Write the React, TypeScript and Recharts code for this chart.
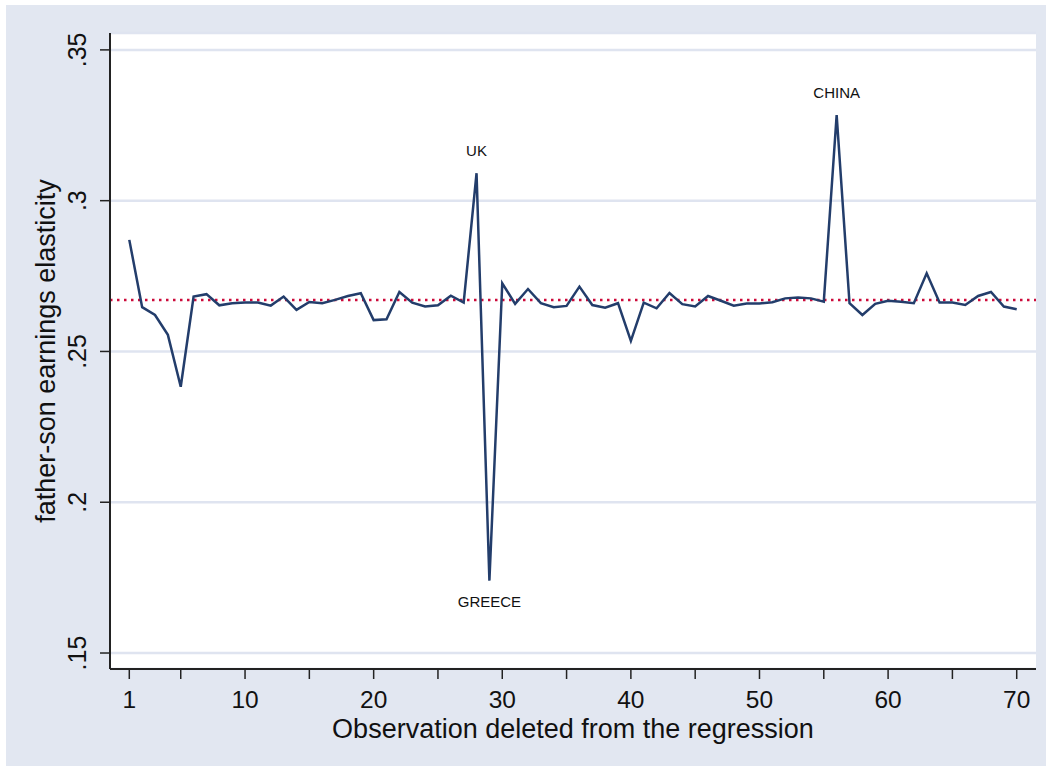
import React from 'react'
import {
  LineChart,
  Line,
  XAxis,
  YAxis,
  CartesianGrid,
  ReferenceLine,
  Label,
} from 'recharts'

// observation number deleted (1..70)
const observations = [
  1, 2, 3, 4, 5, 6, 7, 8, 9, 10,
  11, 12, 13, 14, 15, 16, 17, 18, 19, 20,
  21, 22, 23, 24, 25, 26, 27, 28, 29, 30,
  31, 32, 33, 34, 35, 36, 37, 38, 39, 40,
  41, 42, 43, 44, 45, 46, 47, 48, 49, 50,
  51, 52, 53, 54, 55, 56, 57, 58, 59, 60,
  61, 62, 63, 64, 65, 66, 67, 68, 69, 70,
]

// father-son earnings elasticity with that observation left out
const elasticity = [
  0.287, 0.2647, 0.2621, 0.2555, 0.2383, 0.2682, 0.269, 0.2653, 0.266, 0.2662,
  0.2662, 0.2652, 0.2682, 0.2638, 0.2664, 0.266, 0.2671, 0.2684, 0.2693, 0.2604,
  0.2607, 0.2697, 0.2662, 0.2649, 0.2653, 0.2685, 0.2662, 0.3091, 0.174, 0.2726,
  0.2658, 0.2707, 0.266, 0.2647, 0.2651, 0.2715, 0.2654, 0.2645, 0.266, 0.2535,
  0.2662, 0.2643, 0.2694, 0.2657, 0.2649, 0.2684, 0.2668, 0.2652, 0.2659, 0.2659,
  0.2663, 0.2676, 0.2679, 0.2676, 0.2665, 0.3284, 0.266, 0.2621, 0.2658, 0.2668,
  0.2665, 0.266, 0.2759, 0.2662, 0.2662, 0.2654, 0.2684, 0.2697, 0.2649, 0.264,
]

// labelled outliers: observation -> country, and where the label sits
const outlierObs = [28, 29, 56]
const outlierNames = ['UK', 'GREECE', 'CHINA']
const outlierBelow = [false, true, false]

const fullSampleEstimate = 0.2671

const xTicks = [1, 5, 10, 15, 20, 25, 30, 35, 40, 45, 50, 55, 60, 65, 70]
const xTickLabels = [1, 10, 20, 30, 40, 50, 60, 70]
const yTicks = [0.15, 0.2, 0.25, 0.3, 0.35]
const yTickLabels = ['.15', '.2', '.25', '.3', '.35']

const data = observations.map((obs, i) => ({ obs, value: elasticity[i] }))

const BG = '#E2E7F1'
const GRID = '#DFE4F0'
const NAVY = '#233D6B'
const RED = '#CC0A3A'
const FONT = '"Liberation Sans", Arial, Helvetica, sans-serif'

const XTick = (props: any) => {
  const { x, y, payload } = props
  if (!xTickLabels.includes(payload.value)) return null
  return (
    <text x={x} y={y + 29} textAnchor="middle" fontSize={24.5} fill="#111" fontFamily={FONT}>
      {payload.value}
    </text>
  )
}

const YTick = (props: any) => {
  const { y, payload } = props
  const idx = yTicks.findIndex((t) => Math.abs(t - payload.value) < 1e-6)
  const tx = 86
  return (
    <text
      x={tx}
      y={y}
      transform={`rotate(-90, ${tx}, ${y})`}
      textAnchor="middle"
      fontSize={25}
      fill="#111"
      fontFamily={FONT}
    >
      {idx >= 0 ? yTickLabels[idx] : payload.value}
    </text>
  )
}

const OutlierLabel = (props: any) => {
  const { x, y, index } = props
  const k = outlierObs.indexOf(observations[index])
  if (k < 0) return null
  return (
    <text
      x={x}
      y={outlierBelow[k] ? y + 26 : y - 17}
      textAnchor="middle"
      fontSize={15}
      fill="#111"
      fontFamily={FONT}
    >
      {outlierNames[k]}
    </text>
  )
}

const App: React.FC = () => {
  return (
    <div style={{ position: 'absolute', left: 0, top: 0, width: 1051, height: 771, background: '#fff' }}>
      <div style={{ position: 'absolute', left: 6, top: 5, width: 1040, height: 761, background: BG }} />
      <div style={{ position: 'absolute', left: 0, top: 0 }}>
        <LineChart
          width={1051}
          height={771}
          data={data}
          margin={{ top: 33, right: 15, bottom: 0, left: 0 }}
        >
          <CartesianGrid vertical={false} horizontal stroke={GRID} strokeWidth={2.5} fill="#fff" />
          <XAxis
            dataKey="obs"
            type="number"
            domain={[-0.5, 71.5]}
            ticks={xTicks}
            interval={0}
            height={102}
            tickSize={10}
            tickMargin={0}
            tick={<XTick />}
            axisLine={{ stroke: '#222', strokeWidth: 2 }}
            tickLine={{ stroke: '#222', strokeWidth: 1.5 }}
            allowDataOverflow
          >
            <Label
              content={(p: any) => {
                const vb = p.viewBox || { x: 110, width: 926 }
                return (
                  <text
                    x={vb.x + vb.width / 2}
                    y={738}
                    textAnchor="middle"
                    fontSize={27}
                    fill="#111"
                    fontFamily={FONT}
                  >
                    Observation deleted from the regression
                  </text>
                )
              }}
            />
          </XAxis>
          <YAxis
            type="number"
            domain={[0.1447, 0.3556]}
            ticks={yTicks}
            interval={0}
            width={110}
            tickSize={10}
            tickMargin={0}
            tick={<YTick />}
            axisLine={{ stroke: '#222', strokeWidth: 2 }}
            tickLine={{ stroke: '#222', strokeWidth: 1.5 }}
            allowDataOverflow
          >
            <Label
              content={(p: any) => {
                const vb = p.viewBox || { y: 33, height: 636 }
                const cy = vb.y + vb.height / 2
                return (
                  <text
                    x={55}
                    y={cy}
                    transform={`rotate(-90, 55, ${cy})`}
                    textAnchor="middle"
                    fontSize={27}
                    fill="#111"
                    fontFamily={FONT}
                  >
                    father-son earnings elasticity
                  </text>
                )
              }}
            />
          </YAxis>
          <ReferenceLine
            y={fullSampleEstimate}
            stroke={RED}
            strokeWidth={2.5}
            strokeDasharray="2.5 4.5"
          />
          <Line
            type="linear"
            dataKey="value"
            stroke={NAVY}
            strokeWidth={2.5}
            dot={false}
            activeDot={false}
            isAnimationActive={false}
            label={<OutlierLabel />}
          />
        </LineChart>
      </div>
    </div>
  )
}

export default App
